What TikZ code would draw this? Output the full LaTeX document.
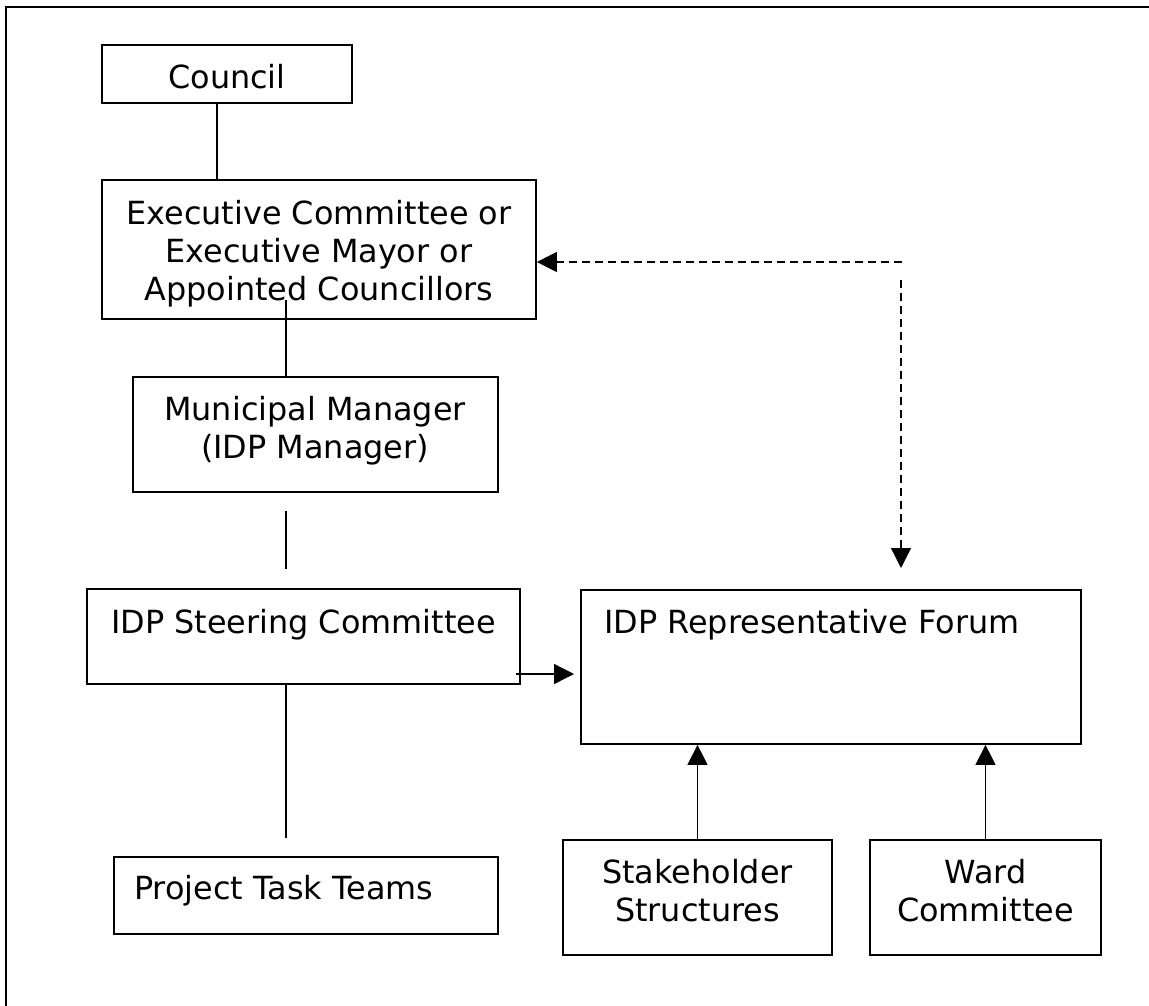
\documentclass[tikz,border=0pt]{standalone}
\usepackage{fontspec}
\setmainfont{DejaVu Sans}
\usetikzlibrary{arrows.meta}
\newlength\px \setlength\px{0.75pt}
\begin{document}
\begin{tikzpicture}[x=0.75pt, y=-0.75pt,
  box/.style={draw, line width=1.3pt, rectangle, inner sep=0pt},
  txt/.style={inner sep=0pt, font=\fontsize{23.9pt}{28.5pt}\selectfont, align=center},
  conn/.style={line width=1pt},
  arr/.style={conn, -{Triangle[length=15pt,width=15pt]}},
  darr/.style={arr, dash pattern=on 6pt off 3.75pt},
]
\useasboundingbox (0,0) rectangle (1149,1006);
\fill[white] (0,0) rectangle (1149,1006);
% frame
\draw[line width=1.5pt, line join=miter] (1149,7) -- (5.5,7) -- (5.5,1006);

% boxes
\node[box, minimum width=250\px, minimum height=58\px]  (council) at (227,74) {};
\node[box, minimum width=434\px, minimum height=139\px] (exec)    at (319,249.5) {};
\node[box, minimum width=365\px, minimum height=115\px] (mm)      at (315.5,434.5) {};
\node[box, minimum width=433\px, minimum height=95\px]  (steer)   at (303.5,636.5) {};
\node[box, minimum width=500\px, minimum height=154\px] (forum)   at (831,667) {};
\node[box, minimum width=384\px, minimum height=77\px]  (project) at (306,895.5) {};
\node[box, minimum width=269\px, minimum height=115\px] (stake)   at (697.5,897.5) {};
\node[box, minimum width=231\px, minimum height=115\px] (ward)    at (985.5,897.5) {};

% texts
\node[txt] (councilT) at (227,76.5) {Council};
\node[txt] (execT) at (319,253.5) {Executive Committee or\\Executive Mayor or\\Appointed Councillors};
\node[txt] (mmT) at (315,430.5) {Municipal Manager\\(IDP Manager)};
\node[txt] (steerT) at (303.5,625) {IDP Steering Committee};
\node[txt, anchor=west] (forumT) at (604,625) {IDP Representative Forum};
\node[txt, anchor=west] (projectT) at (134,891) {Project Task Teams};
\node[txt] (stakeT) at (697.5,891) {Stakeholder\\Structures};
\node[txt] (wardT) at (985.5,891) {Ward\\Committee};

% coordinates
\coordinate (xa) at (217,0);
\coordinate (e1) at (286,300);
\coordinate (f1) at (286,511);
\coordinate (f2) at (286,569);
\coordinate (p1) at (286,838);
\coordinate (s1) at (516,674);
\coordinate (s2) at (574,674);
\coordinate (d1) at (902,262);
\coordinate (d2) at (901,280);
\coordinate (d3) at (901,568);

% connectors
\draw[conn] (council.south -| xa) -- (exec.north -| xa);
\draw[conn] (e1) -- (mm.north -| e1);
\draw[conn] (f1) -- (f2);
\draw[conn] (steer.south -| e1) -- (p1);
\draw[arr] (s1) -- (s2);
\draw[darr] (d1) -- (exec.east |- d1);
\draw[darr] (d2) -- (d3);
\draw[arr] (stake.north) -- (forum.south -| stake.north);
\draw[arr] (ward.north) -- (forum.south -| ward.north);
\end{tikzpicture}
\end{document}
